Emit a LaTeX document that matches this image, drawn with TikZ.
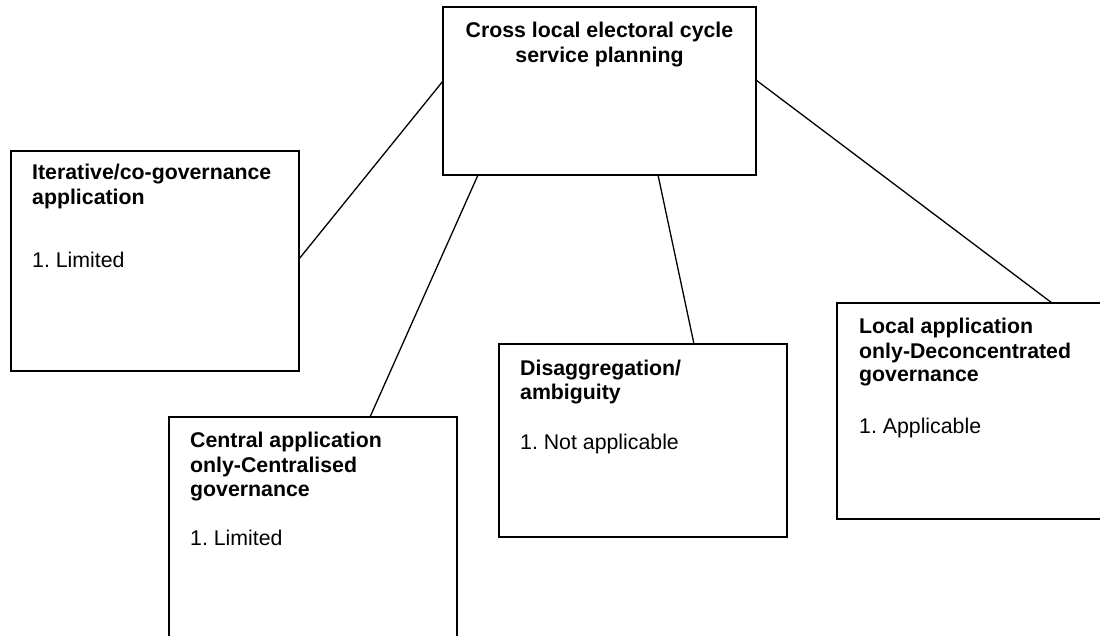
\documentclass[tikz,border=0pt]{standalone}
\usepackage{fontspec}
\setmainfont{Liberation Sans}
\usetikzlibrary{calc}
\frenchspacing
\begin{document}
\begin{tikzpicture}[x=1pt,y=-1pt,
  box/.style={draw, line width=1.4pt, inner sep=0pt, outer sep=0pt, anchor=north west},
  head/.style={font=\fontsize{21.3}{24.5}\selectfont\bfseries, inner sep=0pt, anchor=base west},
  headc/.style={head, anchor=base},
  body/.style={font=\fontsize{21.3}{24.5}\selectfont, inner sep=0pt, anchor=base west},
  link/.style={line width=1.3pt}]
\clip (0,0) rectangle (1100,636);
\fill[white] (0,0) rectangle (1100,636);

% boxes
\node[box, minimum width=313pt, minimum height=168pt] (top) at (443,7) {};
\node[box, minimum width=288pt, minimum height=220pt] (left) at (11,151) {};
\node[box, minimum width=288pt, minimum height=243pt] (central) at (169,417) {};
\node[box, minimum width=288pt, minimum height=193pt] (disagg) at (499,344) {};
\node[box, minimum width=290pt, minimum height=216pt] (local) at (837,303) {};

% connectors
\draw[link] ($(top.north west)+(0,74)$) -- ($(left.north east)+(0,108)$);
\draw[link] ($(top.south west)+(35,0)$) -- ($(central.north west)+(201,0)$);
\draw[link] ($(top.south west)+(215,0)$) -- ($(disagg.north west)+(195,0)$);
\draw[link] ($(top.north east)+(0,73)$) -- ($(local.north west)+(215,0)$);

% texts
\node[headc] (t1) at (599.5,38) {Cross local electoral cycle};
\node[headc] (t2) at (599.5,63) {service planning};

\node[head] (l1) at (32,180) {Iterative/co-governance};
\node[head] (l2) at (32,205) {application};
\node[body] (l3) at (32,268) {1. Limited};

\node[head] (c1) at (190,447) {Central application};
\node[head] (c2) at (190,472) {only-Centralised};
\node[head] (c3) at (190,496) {governance};
\node[body] (c4) at (190,545) {1. Limited};

\node[head] (d1) at (520,375) {Disaggregation/};
\node[head] (d2) at (520,399) {ambiguity};
\node[body] (d3) at (520,449) {1. Not applicable};

\node[head] (o1) at (859,334) {Local application};
\node[head] (o2) at (859,358) {only-Deconcentrated};
\node[head] (o3) at (859,381) {governance};
\node[body] (o4) at (859,433) {1. Applicable};
\end{tikzpicture}
\end{document}
